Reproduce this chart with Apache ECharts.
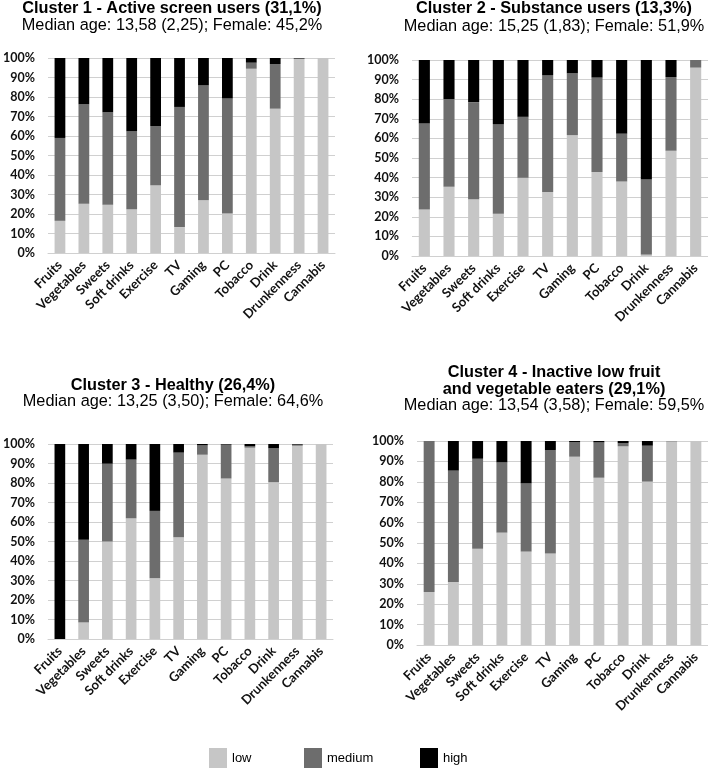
<!DOCTYPE html>
<html>
<head>
<meta charset="utf-8">
<script src="https://cdn.jsdelivr.net/npm/echarts@6/dist/echarts.min.js"></script>
<style>
html,body{margin:0;padding:0;background:#fff;}
#chart{width:708px;height:780px;}
</style>
</head>
<body>
<div id="chart"></div>
<script>
const categories = ['Fruits','Vegetables','Sweets','Soft drinks','Exercise','TV','Gaming','PC','Tobacco','Drink','Drunkenness','Cannabis'];
const yTicks = ['0%','10%','20%','30%','40%','50%','60%','70%','80%','90%','100%'];
const levels = ['low','medium','high'];

const c1Title = 'Cluster 1 - Active screen users (31,1%)';
const c1Sub = 'Median age: 13,58 (2,25); Female: 45,2%';
const c1Low    = [16.5, 25.3, 24.8, 22.4, 34.7, 13.3, 27.0, 20.2, 94.5, 74.0, 99.5, 100];
const c1Medium = [42.5, 50.9, 47.3, 40.0, 30.4, 61.6, 59.0, 59.1, 3.1, 22.9, 0.3, 0];
const c1High   = [41.0, 23.8, 27.9, 37.6, 34.9, 25.1, 14.0, 20.7, 2.4, 3.1, 0.2, 0];

const c2Title = 'Cluster 2 - Substance users (13,3%)';
const c2Sub = 'Median age: 15,25 (1,83); Female: 51,9%';
const c2Low    = [23.7, 35.3, 29.0, 21.6, 39.9, 32.7, 61.7, 42.9, 38.0, 0.7, 53.7, 96.1];
const c2Medium = [43.9, 44.8, 49.5, 45.7, 31.1, 59.6, 31.5, 48.1, 24.4, 38.3, 37.6, 3.9];
const c2High   = [32.4, 19.9, 21.5, 32.7, 29.0, 7.7, 6.8, 9.0, 37.6, 61.0, 8.7, 0];

const c3Title = 'Cluster 3 - Healthy (26,4%)';
const c3Sub = 'Median age: 13,25 (3,50); Female: 64,6%';
const c3Low    = [0, 8.5, 50.0, 61.9, 31.2, 52.2, 94.5, 82.3, 98.1, 80.4, 99.1, 100];
const c3Medium = [0, 42.4, 39.9, 30.1, 34.5, 43.4, 4.8, 17.4, 0.7, 17.4, 0.6, 0];
const c3High   = [100, 49.1, 10.1, 8.0, 34.3, 4.4, 0.7, 0.3, 1.2, 2.2, 0.3, 0];

const c4Title1 = 'Cluster 4 - Inactive low fruit';
const c4Title2 = 'and vegetable eaters (29,1%)';
const c4Sub = 'Median age: 13,54 (3,58); Female: 59,5%';
const c4Low    = [26.0, 30.9, 47.2, 55.1, 45.8, 44.8, 92.3, 82.0, 97.4, 80.1, 99.8, 100];
const c4Medium = [74.0, 54.6, 44.1, 34.4, 33.4, 50.8, 7.2, 17.3, 1.5, 17.6, 0.2, 0];
const c4High   = [0, 14.5, 8.7, 10.5, 20.8, 4.4, 0.5, 0.7, 1.1, 2.3, 0, 0];

const colors = {low:'#c6c6c6', medium:'#6d6d6d', high:'#000000'};
const FONT = 'Lato';

const grids = [
  {left:42, top:58, width:293, height:195},
  {left:412, top:60, width:296, height:196},
  {left:43, top:444, width:290, height:195},
  {left:417, top:441, width:291, height:204}
];
const panels = [
  [c1Low, c1Medium, c1High],
  [c2Low, c2Medium, c2High],
  [c3Low, c3Medium, c3High],
  [c4Low, c4Medium, c4High]
];

const xAxes = grids.map((g,i)=>({
  type:'category', gridIndex:i, data:categories,
  axisLine:{show:true, lineStyle:{color:'#d0d0d0', width:1}},
  axisTick:{show:false},
  axisLabel:{interval:0, rotate:45, color:'#111', fontFamily:FONT, fontWeight:'bold', fontSize:13, margin:10}
}));
const yAxes = grids.map((g,i)=>({
  type:'value', gridIndex:i, min:0, max:100, interval:10,
  axisLine:{show:false}, axisTick:{show:false},
  splitLine:{lineStyle:{color:'#d0d0d0', width:1}},
  axisLabel:{color:'#111', fontFamily:FONT, fontWeight:'bold', fontSize:12.5, margin:13,
    formatter:(v)=>yTicks[Math.round(v/10)]}
}));
const series = [];
panels.forEach((arrs,i)=>{
  levels.forEach((lv,j)=>{
    series.push({
      name:lv, type:'bar', stack:'s'+i, xAxisIndex:i, yAxisIndex:i,
      data:arrs[j], barWidth:'45%', itemStyle:{color:colors[lv]},
      emphasis:{disabled:true}
    });
  });
});

const titleBold = {fontFamily:'Liberation Sans', fontWeight:'bold', fontSize:16.3, color:'#000'};
const titleReg = {fontFamily:'Liberation Sans', fontWeight:'normal', fontSize:16.3, color:'#000'};
const titles = [
  {text:c1Title, left:172, top:1, textAlign:'center', textStyle:titleBold},
  {text:c1Sub, left:172, top:18, textAlign:'center', textStyle:titleReg},
  {text:c2Title, left:554, top:1, textAlign:'center', textStyle:titleBold},
  {text:c2Sub, left:554, top:19, textAlign:'center', textStyle:titleReg},
  {text:c3Title, left:173, top:378, textAlign:'center', textStyle:titleBold},
  {text:c3Sub, left:173, top:394, textAlign:'center', textStyle:titleReg},
  {text:c4Title1, left:554, top:365, textAlign:'center', textStyle:titleBold},
  {text:c4Title2, left:554, top:382, textAlign:'center', textStyle:titleBold},
  {text:c4Sub, left:554, top:398, textAlign:'center', textStyle:titleReg}
].map(t=>Object.assign({padding:0}, t));

const legendPos = [209, 304, 420];
const legends = levels.map((lv,k)=>({
  data:[lv], left:legendPos[k], top:748, orient:'horizontal',
  icon:'rect', itemWidth:18, itemHeight:20, itemGap:0, padding:0,
  selectedMode:false,
  textStyle:{fontFamily:'Liberation Sans', fontSize:13, color:'#000'}
}));

const chart = echarts.init(document.getElementById('chart'), null, {renderer:'canvas'});
chart.setOption({
  animation:false,
  backgroundColor:'#fff',
  title:titles,
  legend:legends,
  grid:grids.map(g=>Object.assign({containLabel:false}, g)),
  xAxis:xAxes, yAxis:yAxes, series:series
});
</script>
</body>
</html>
